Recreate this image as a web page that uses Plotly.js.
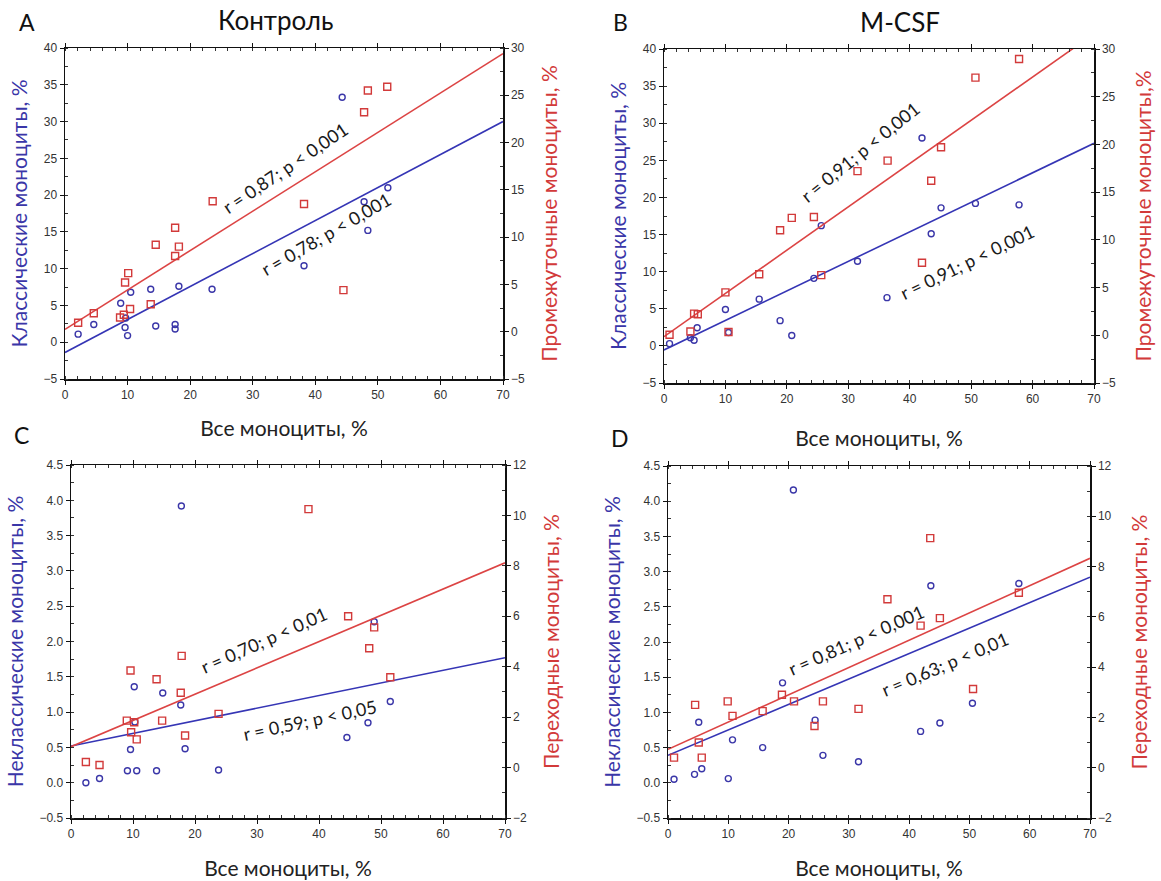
<!DOCTYPE html>
<html>
<head>
<meta charset="utf-8">
<script src="https://cdn.plot.ly/plotly-3.0.1.min.js"></script>
<style>html,body{margin:0;padding:0;background:#fff;}#chart{width:1161px;height:881px;}</style>
</head>
<body>
<div id="chart"></div>
<script>
// ---------- DATA ----------
const xTicks = [0, 10, 20, 30, 40, 50, 60, 70];

// Panel A — Контроль: classical (left axis) and intermediate (right axis)
const A_blueX = [2.1, 4.6, 8.9, 9.7, 9.6, 10.0, 10.5, 13.7, 14.5, 17.6, 17.6, 18.2, 23.5, 38.2, 44.3, 47.8, 48.4, 51.6];
const A_blueY = [1.1, 2.4, 5.3, 3.3, 2.0, 0.9, 6.8, 7.2, 2.2, 2.4, 1.8, 7.6, 7.2, 10.4, 33.3, 19.1, 15.2, 21.0];
const A_redX  = [2.1, 4.6, 8.8, 9.4, 9.6, 10.1, 10.4, 13.7, 14.5, 17.6, 17.6, 18.2, 23.6, 38.2, 44.5, 47.8, 48.4, 51.5];
const A_redY  = [0.95, 1.95, 1.5, 1.8, 5.2, 6.2, 2.4, 2.9, 9.2, 11.0, 8.0, 9.0, 13.8, 13.5, 4.4, 23.2, 25.5, 25.9];
const A_fitX = [0, 70];
const A_blueFit = [-1.4, 30.0];
const A_redFit  = [0.25, 29.4];

// Panel B — M-CSF
const B_blueX = [0.9, 4.3, 4.9, 5.4, 10.0, 10.5, 15.5, 18.9, 20.8, 24.4, 25.6, 31.5, 36.3, 42.0, 43.5, 45.1, 50.7, 57.8];
const B_blueY = [0.3, 1.1, 0.75, 2.45, 4.9, 1.8, 6.3, 3.4, 1.4, 9.1, 16.2, 11.4, 6.5, 28.0, 15.1, 18.6, 19.2, 19.0];
const B_redX  = [0.9, 4.3, 4.9, 5.5, 10.0, 10.5, 15.5, 18.9, 20.8, 24.4, 25.6, 31.5, 36.4, 42.0, 43.5, 45.1, 50.7, 57.8];
const B_redY  = [0.05, 0.4, 2.27, 2.2, 4.5, 0.35, 6.4, 11.0, 12.3, 12.4, 6.3, 17.2, 18.3, 7.6, 16.2, 19.7, 27.0, 28.95];
const B_fitX = [0, 70];
const B_blueFit = [-0.55, 27.3];
const B_redFit  = [-0.15, 31.6];

// Panel C — Контроль: non-classical (left) and transitional (right)
const C_blueX = [2.4, 4.6, 9.1, 9.6, 10.2, 10.3, 10.6, 13.8, 14.8, 17.7, 17.8, 18.4, 23.8, 44.5, 47.9, 48.9, 51.5];
const C_blueY = [0.0, 0.06, 0.17, 0.47, 1.36, 0.86, 0.17, 0.17, 1.27, 1.1, 3.92, 0.48, 0.18, 0.64, 0.85, 2.28, 1.15];
const C_redX  = [2.4, 4.6, 9.0, 9.6, 9.7, 10.2, 10.6, 13.8, 14.7, 17.7, 17.85, 18.4, 23.8, 38.3, 44.7, 48.1, 48.9, 51.5];
const C_redY  = [0.22, 0.1, 1.86, 3.85, 1.4, 1.8, 1.12, 3.5, 1.86, 2.97, 4.43, 1.27, 2.13, 10.25, 6.0, 4.73, 5.56, 3.58];
const C_fitX = [0, 70];
const C_blueFit = [0.52, 1.77];
const C_redFit  = [0.83, 8.12];

// Panel D — M-CSF
const D_blueX = [1.0, 4.4, 5.1, 5.6, 10.0, 10.7, 15.7, 19.0, 20.8, 24.4, 25.7, 31.6, 41.9, 43.6, 45.1, 50.5, 58.2];
const D_blueY = [0.05, 0.12, 0.86, 0.2, 0.06, 0.61, 0.5, 1.42, 4.16, 0.89, 0.39, 0.3, 0.73, 2.8, 0.85, 1.13, 2.83];
const D_redX  = [1.0, 4.5, 5.1, 5.6, 9.9, 10.7, 15.7, 18.9, 20.9, 24.3, 25.7, 31.6, 36.4, 41.9, 43.5, 45.1, 50.6, 58.2];
const D_redY  = [0.4, 2.5, 1.0, 0.4, 2.64, 2.06, 2.25, 2.9, 2.64, 1.66, 2.64, 2.34, 6.7, 5.65, 9.13, 5.95, 3.13, 6.96];
const D_fitX = [0, 70];
const D_blueFit = [0.39, 2.92];
const D_redFit  = [0.73, 8.33];

// Labels
const panelLetters = ['A', 'B', 'C', 'D'];
const panelTitles = ['Контроль', 'M-CSF'];
const xTitle = 'Все моноциты, %';
const leftTitles = ['Классические моноциты, %', 'Классические моноциты, %', 'Неклассические моноциты, %', 'Неклассические моноциты, %'];
const rightTitles = ['Промежуточные моноциты, %', 'Промежуточные моноциты,%', 'Переходные моноциты, %', 'Переходные моноциты, %'];
const redLabels = ['r = 0,87; p < 0,001', 'r = 0,91; p < 0,001', 'r = 0,70; p < 0,01', 'r = 0,81; p < 0,001'];
const blueLabels = ['r = 0,78; p < 0,001', 'r = 0,91; p < 0,001', 'r = 0,59; p < 0,05', 'r = 0,63; p < 0,01'];

// ---------- STYLE / LAYOUT ----------
const W = 1161, H = 881;
const fx = p => p / W;
const fy = p => 1 - p / H;
const BLUE = '#3a36a8', RED = '#d23a3a';
const BLUE_LINE = '#3535b5', RED_LINE = '#dc4444';
const TEXTFONT = 'Lato, "Open Sans", sans-serif';
const TICKFONT = {family: '"Liberation Sans", Arial, sans-serif', size: 12, color: '#333'};

// pixel boxes of each plot frame: [left, right, top, bottom]
const boxes = [[65, 503, 48, 379], [664, 1094, 49, 383], [71, 505, 465, 818], [668, 1090, 466, 818]];
const leftRanges = [[-5, 40], [-5, 40], [-0.5, 4.5], [-0.5, 4.5]];
const rightRanges = [[-5, 30], [-5, 30], [-2, 12], [-2, 12]];
const leftDticks = [5, 5, 0.5, 0.5];
const rightDticks = [5, 5, 2, 2];
const xStandoff = [20, 26, 21, 21];
const leftStandoff = [10, 10, 10, 10];
const rightStandoff = [18, 21, 18, 21];

const panels = [
  {bx: A_blueX, by: A_blueY, rx: A_redX, ry: A_redY, fx: A_fitX, bf: A_blueFit, rf: A_redFit},
  {bx: B_blueX, by: B_blueY, rx: B_redX, ry: B_redY, fx: B_fitX, bf: B_blueFit, rf: B_redFit},
  {bx: C_blueX, by: C_blueY, rx: C_redX, ry: C_redY, fx: C_fitX, bf: C_blueFit, rf: C_redFit},
  {bx: D_blueX, by: D_blueY, rx: D_redX, ry: D_redY, fx: D_fitX, bf: D_blueFit, rf: D_redFit}
];

const traces = [];
const layout = {
  width: W, height: H,
  margin: {l: 0, r: 0, t: 0, b: 0},
  paper_bgcolor: '#fff', plot_bgcolor: '#fff',
  showlegend: false,
  annotations: []
};

panels.forEach((p, i) => {
  const xa = i === 0 ? 'x' : 'x' + (i + 1);
  const yl = i === 0 ? 'y' : 'y' + (2 * i + 1);
  const yr = 'y' + (2 * i + 2);
  const xKey = i === 0 ? 'xaxis' : 'xaxis' + (i + 1);
  const ylKey = i === 0 ? 'yaxis' : 'yaxis' + (2 * i + 1);
  const yrKey = 'yaxis' + (2 * i + 2);
  const b = boxes[i];

  layout[xKey] = {
    domain: [fx(b[0]), fx(b[1])], anchor: yl, range: [0, 70],
    tickvals: xTicks, ticks: 'outside', ticklen: 4, tickcolor: '#111',
    minor: {ticks: 'inside', dtick: 2, ticklen: 3, tickcolor: '#333'},
    showline: true, linecolor: '#111', linewidth: 1.5, mirror: 'ticks',
    showgrid: false, zeroline: false, tickfont: TICKFONT,
    title: {text: xTitle, font: {family: TEXTFONT, size: 21, color: '#222'}, standoff: xStandoff[i]}
  };
  layout[ylKey] = {
    domain: [fy(b[3]), fy(b[2])], anchor: xa, side: 'left', range: leftRanges[i],
    dtick: leftDticks[i], tick0: 0, tickformat: i >= 2 ? '.1f' : '',
    ticks: 'outside', ticklen: 4, tickcolor: '#111',
    minor: {ticks: 'inside', ticklen: 3, tickcolor: '#333', nticks: 3},
    showline: true, linecolor: '#111', linewidth: 1.5,
    showgrid: false, zeroline: false, tickfont: TICKFONT,
    title: {text: leftTitles[i], font: {family: TEXTFONT, size: 21, color: BLUE}, standoff: leftStandoff[i]}
  };
  layout[yrKey] = {
    overlaying: yl, anchor: xa, side: 'right', range: rightRanges[i],
    dtick: rightDticks[i], tick0: 0,
    ticks: 'outside', ticklen: 4, tickcolor: '#111',
    minor: {ticks: 'inside', ticklen: 3, tickcolor: '#333', nticks: 3},
    showline: true, linecolor: '#111', linewidth: 1.5,
    showgrid: false, zeroline: false, tickfont: TICKFONT,
    title: {text: rightTitles[i], font: {family: TEXTFONT, size: 21, color: RED}, standoff: rightStandoff[i]}
  };

  traces.push({type: 'scatter', mode: 'lines', x: p.fx, y: p.bf, xaxis: xa, yaxis: yl,
    line: {color: BLUE_LINE, width: 1.6}, hoverinfo: 'skip'});
  traces.push({type: 'scatter', mode: 'lines', x: p.fx, y: p.rf, xaxis: xa, yaxis: yr,
    line: {color: RED_LINE, width: 1.6}, hoverinfo: 'skip'});
  traces.push({type: 'scatter', mode: 'markers', x: p.bx, y: p.by, xaxis: xa, yaxis: yl,
    marker: {symbol: 'circle-open', size: 6, color: BLUE, line: {width: 1.4, color: BLUE}}});
  traces.push({type: 'scatter', mode: 'markers', x: p.rx, y: p.ry, xaxis: xa, yaxis: yr,
    marker: {symbol: 'square-open', size: 7, color: RED, line: {width: 1.4, color: RED}}});
});

// panel letters and titles
const letterPos = [[27, 22], [621, 22], [21, 435], [620, 438]];
panelLetters.forEach((t, i) => layout.annotations.push({
  text: t, xref: 'paper', yref: 'paper', x: fx(letterPos[i][0]), y: fy(letterPos[i][1]),
  showarrow: false, xanchor: 'center', yanchor: 'middle',
  font: {family: TEXTFONT, size: 23, color: '#111'}
}));
const titlePos = [[276, 20], [900, 22]];
panelTitles.forEach((t, i) => layout.annotations.push({
  text: t, xref: 'paper', yref: 'paper', x: fx(titlePos[i][0]), y: fy(titlePos[i][1]),
  showarrow: false, xanchor: 'center', yanchor: 'middle',
  font: {family: TEXTFONT, size: 26, color: '#111'}
}));

// correlation labels (centre pixel positions and angles)
const redLabPos = [[285, 168, -34], [860, 152, -39], [264, 640, -24], [856, 640, -24]];
const blueLabPos = [[326, 234, -30], [967, 262, -26], [310, 720, -12], [945, 664, -23]];
redLabels.forEach((t, i) => layout.annotations.push({
  text: t, xref: 'paper', yref: 'paper', x: fx(redLabPos[i][0]), y: fy(redLabPos[i][1]),
  textangle: redLabPos[i][2], showarrow: false, xanchor: 'center', yanchor: 'middle',
  font: {family: TEXTFONT, size: 18, color: '#1a1a1a'}
}));
blueLabels.forEach((t, i) => layout.annotations.push({
  text: t, xref: 'paper', yref: 'paper', x: fx(blueLabPos[i][0]), y: fy(blueLabPos[i][1]),
  textangle: blueLabPos[i][2], showarrow: false, xanchor: 'center', yanchor: 'middle',
  font: {family: TEXTFONT, size: 18, color: '#1a1a1a'}
}));

Plotly.newPlot('chart', traces, layout, {staticPlot: true, displayModeBar: false});
</script>
</body>
</html>
